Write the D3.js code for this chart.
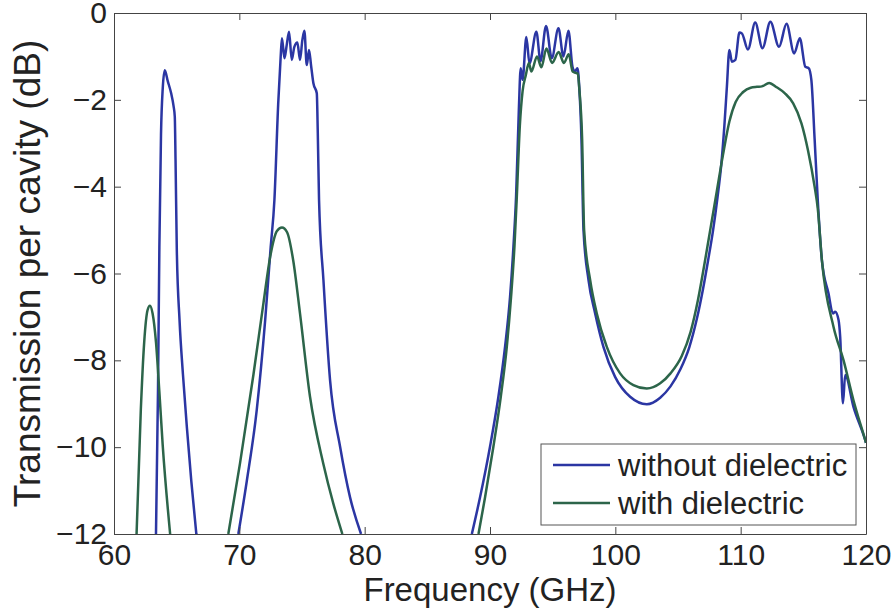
<!DOCTYPE html>
<html>
<head>
<meta charset="utf-8">
<script src="https://cdn.jsdelivr.net/npm/d3@7"></script>
<style>
  body { margin: 0; background: #fff; }
  text { font-family: "Liberation Sans", Arial, Helvetica, sans-serif; fill: #222; }
</style>
</head>
<body>
<div class="chart"></div>
<script>
// Transmission curves: [frequency GHz, dB], null breaks a band
const withoutDielectric = [
  [63.35, -12], [63.51, -8.7], [63.62, -5.4], [63.75, -2.8], [63.89, -1.73], [64.05, -1.32],
  [64.29, -1.57], [64.56, -1.85], [64.75, -2.14], [64.85, -2.39], [64.91, -3.38], [65.01, -5.44],
  [65.23, -7.08], [65.5, -8.32], [65.82, -9.56], [66.17, -10.79], [66.57, -12],
  null,
  [69.92, -12], [70.59, -10.79], [71.39, -9.14], [72.06, -7.08], [72.5, -5.4], [72.8, -4.3],
  [73.1, -2.1], [73.3, -1.0], [73.4, -0.58], [73.6, -1.04], [73.78, -0.74], [73.97, -0.43],
  [74.18, -1.08], [74.39, -0.78], [74.63, -0.68], [74.84, -1.08], [75.03, -0.62], [75.19, -0.41],
  [75.38, -1.2], [75.56, -0.85], [75.72, -1.2], [75.91, -1.62], [76.18, -1.85], [76.26, -2.77],
  [76.36, -4.31], [76.71, -6.15], [77.24, -8.46], [78.04, -9.99], [78.83, -11.15], [79.71, -12],
  null,
  [88.55, -12], [89.21, -11.15], [90.0, -9.99], [90.67, -8.84], [91.2, -7.69], [91.6, -6.54],
  [91.87, -5.38], [92.08, -4.23], [92.3, -2.24], [92.45, -1.27], [92.6, -1.54], [92.9, -0.55],
  [93.15, -1.16], [93.7, -0.43], [94.03, -1.11], [94.47, -0.3], [94.93, -1.04], [95.46, -0.35],
  [95.86, -1.0], [96.26, -0.41], [96.58, -1.24], [96.77, -1.35], [96.98, -1.27], [97.12, -1.7],
  [97.3, -2.93], [97.46, -5.0], [97.86, -6.15], [98.39, -6.92], [99.05, -7.69], [99.98, -8.38],
  [101.18, -8.84], [102.51, -9.01], [103.58, -8.86], [104.4, -8.6], [105.2, -8.2], [105.9, -7.7],
  [106.5, -7.05], [107.0, -6.35], [107.4, -5.7], [107.8, -5.0], [108.15, -4.25], [108.45, -3.5],
  [108.7, -2.6], [108.9, -1.7], [109.1, -0.85], [109.3, -1.12], [109.58, -1.08], [109.9, -0.45],
  [110.1, -0.47], [110.58, -0.84], [111.16, -0.22], [111.74, -0.81], [112.37, -0.2], [113.06, -0.78],
  [113.66, -0.25], [114.27, -0.93], [114.72, -0.58], [115.16, -1.24], [115.43, -1.27], [115.64, -1.54],
  [115.9, -2.9], [116.15, -4.3], [116.48, -5.69], [117.01, -6.46], [117.36, -6.92], [117.54, -6.88],
  [117.81, -7.07], [117.94, -7.46], [118.16, -8.99], [118.34, -8.34], [119.0, -9.07], [119.94, -9.84],
  [120, -9.9]
];
const withDielectric = [
  [61.8, -12], [62.14, -9.14], [62.41, -7.58], [62.68, -6.84], [62.87, -6.74], [63.08, -6.92],
  [63.35, -7.58], [63.62, -8.73], [63.89, -9.97], [64.48, -12],
  null,
  [69.12, -12], [70.05, -10.38], [71.13, -8.32], [71.93, -6.67], [72.47, -5.6], [73.0, -5.02],
  [73.4, -4.94], [73.81, -5.05], [74.3, -5.7], [74.84, -6.92], [75.64, -8.84], [76.7, -10.38],
  [77.5, -11.3], [78.22, -12],
  null,
  [89.08, -12], [89.61, -11.15], [90.27, -9.99], [90.86, -8.84], [91.34, -7.69], [91.68, -6.54],
  [91.95, -5.38], [92.14, -4.23], [92.38, -2.6], [92.6, -1.8], [92.86, -1.43], [93.1, -1.15],
  [93.3, -1.35], [93.75, -1.0], [94.1, -1.25], [94.5, -0.82], [94.95, -1.15], [95.48, -0.9],
  [95.9, -1.15], [96.28, -0.95], [96.6, -1.35], [97.0, -1.4], [97.14, -1.8], [97.35, -2.9],
  [97.51, -5.0], [97.99, -6.15], [98.52, -6.92], [99.32, -7.69], [100.38, -8.3], [101.44, -8.57],
  [102.51, -8.65], [103.58, -8.53], [104.4, -8.3], [105.3, -7.9], [106.0, -7.35], [106.6, -6.6],
  [107.1, -5.8], [107.6, -4.95], [108.1, -4.1], [108.6, -3.25], [109.1, -2.5], [109.6, -2.05],
  [110.2, -1.82], [110.8, -1.72], [111.3, -1.7], [111.69, -1.69], [112.27, -1.61], [112.87, -1.71],
  [113.53, -1.85], [114.19, -2.08], [114.85, -2.54], [115.37, -3.16], [115.9, -4.0], [116.15, -4.5],
  [116.48, -5.69], [117.41, -7.23], [118.21, -8.0], [119.0, -8.92], [119.94, -9.84], [120, -9.9]
];

const xTicks = [60, 70, 80, 90, 100, 110, 120];
const yTicks = [-12, -10, -8, -6, -4, -2, 0];
const seriesNames = ["without dielectric", "with dielectric"];
const seriesColors = ["#2b36a3", "#2c654a"];

const margin = { top: 13, right: 28, bottom: 79, left: 114 };
const width = 894;
const height = 613;
const plotW = width - margin.left - margin.right;
const plotH = height - margin.top - margin.bottom;

const svg = d3.select(".chart")
  .append("svg")
  .attr("width", width)
  .attr("height", height)
  .append("g")
  .attr("transform", "translate(" + margin.left + "," + margin.top + ")");

const x = d3.scaleLinear().domain([60, 120]).range([0, plotW]);
const y = d3.scaleLinear().domain([-12, 0]).range([plotH, 0]);

// clip the curves to the axes box
svg.append("clipPath")
  .attr("id", "plot-clip")
  .append("rect")
  .attr("width", plotW)
  .attr("height", plotH);

const line = d3.line()
  .defined(d => d !== null)
  .x(d => x(d[0]))
  .y(d => y(d[1]))
  .curve(d3.curveMonotoneX);

[withoutDielectric, withDielectric].forEach((data, i) => {
  svg.append("path")
    .datum(data)
    .attr("clip-path", "url(#plot-clip)")
    .attr("fill", "none")
    .attr("stroke", seriesColors[i])
    .attr("stroke-width", 2.5)
    .attr("stroke-linejoin", "round")
    .attr("d", line);
});

// axes, ticks pointing inward on all four sides
const xAxis = d3.axisBottom(x).tickValues(xTicks).tickSize(-7).tickSizeOuter(0).tickPadding(10);
const yAxis = d3.axisLeft(y).tickValues(yTicks).tickSize(-7).tickSizeOuter(0).tickPadding(7);

const gx = svg.append("g")
  .attr("transform", "translate(0," + plotH + ")")
  .call(xAxis);
gx.selectAll("text").style("font-size", "30px").attr("dy", "0.7em");

const gy = svg.append("g").call(yAxis);
gy.selectAll("text").style("font-size", "30px");

svg.append("g")
  .call(d3.axisTop(x).tickValues(xTicks).tickSize(-7).tickSizeOuter(0).tickFormat(""));
svg.append("g")
  .attr("transform", "translate(" + plotW + ",0)")
  .call(d3.axisRight(y).tickValues(yTicks).tickSize(-7).tickSizeOuter(0).tickFormat(""));

svg.selectAll(".domain, .tick line").attr("stroke", "#444");

// axis labels
svg.append("text")
  .attr("x", plotW / 2)
  .attr("y", plotH + 67)
  .attr("text-anchor", "middle")
  .style("font-size", "33px")
  .text("Frequency (GHz)");

svg.append("text")
  .attr("transform", "rotate(-90)")
  .attr("x", -plotH / 2)
  .attr("y", -74)
  .attr("text-anchor", "middle")
  .style("font-size", "37px")
  .text("Transmission per cavity (dB)");

// legend
const legend = svg.append("g")
  .attr("transform", "translate(" + (541 - margin.left) + "," + (444 - margin.top) + ")");

legend.append("rect")
  .attr("width", 315)
  .attr("height", 81)
  .attr("fill", "#fff")
  .attr("stroke", "#555");

legend.selectAll(".legend-line")
  .data(seriesNames)
  .join("line")
  .attr("class", "legend-line")
  .attr("x1", 12)
  .attr("x2", 69)
  .attr("y1", (d, i) => 21 + i * 38)
  .attr("y2", (d, i) => 21 + i * 38)
  .attr("stroke", (d, i) => seriesColors[i])
  .attr("stroke-width", 2.5);

legend.selectAll(".legend-text")
  .data(seriesNames)
  .join("text")
  .attr("class", "legend-text")
  .attr("x", 77)
  .attr("y", (d, i) => 21 + i * 38)
  .attr("dy", "0.35em")
  .style("font-size", "31px")
  .text(d => d);
</script>
</body>
</html>
